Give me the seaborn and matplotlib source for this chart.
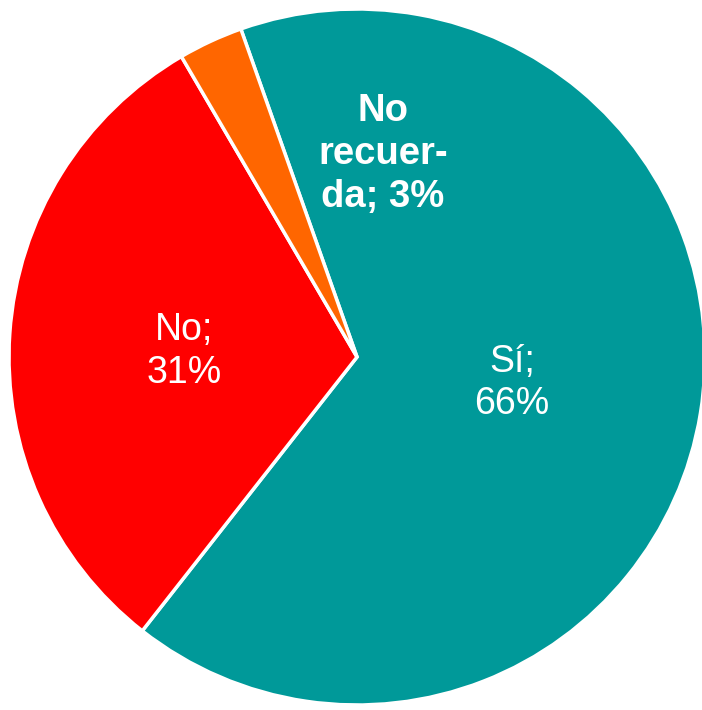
import matplotlib
matplotlib.use("Agg")
import matplotlib.pyplot as plt
import seaborn as sns

sns.set_theme(style="white")
plt.rcParams['font.family'] = ['Liberation Sans', 'DejaVu Sans']

categories = ["Sí", "No", "No recuerda"]
values = [66, 31, 3]
labels = ["Sí;\n66%", "No;\n31%", "No\nrecuer-\nda; 3%"]
colors = ["#009999", "#FF0000", "#FF6600"]

fig = plt.figure(figsize=(7.02, 7.10), dpi=100)
ax = fig.add_axes([0, 0, 1, 1])
wedges, _ = ax.pie(values, colors=colors, startangle=109.5, counterclock=False,
                   radius=1.0, wedgeprops=dict(edgecolor="white", linewidth=2.5))

# label placement (data units)
label_pos = [(0.445, -0.075), (-0.497, 0.015), (0.075, 0.583)]
label_style = [dict(fontsize=27, fontweight="normal", linespacing=1.2),
               dict(fontsize=27, fontweight="normal", linespacing=1.25),
               dict(fontsize=27.5, fontweight="bold", linespacing=1.25)]
for lab, (x, y), st in zip(labels, label_pos, label_style):
    ax.text(x, y, lab, ha="center", va="center", color="white", **st)

scale = 348.0
cx, cy = 357.0, 357.0
ax.set_xlim(-cx / scale, (702 - cx) / scale)
ax.set_ylim(-(710 - cy) / scale, cy / scale)
ax.set_aspect("auto")
ax.axis("off")

fig.savefig("out.png", dpi=100)
